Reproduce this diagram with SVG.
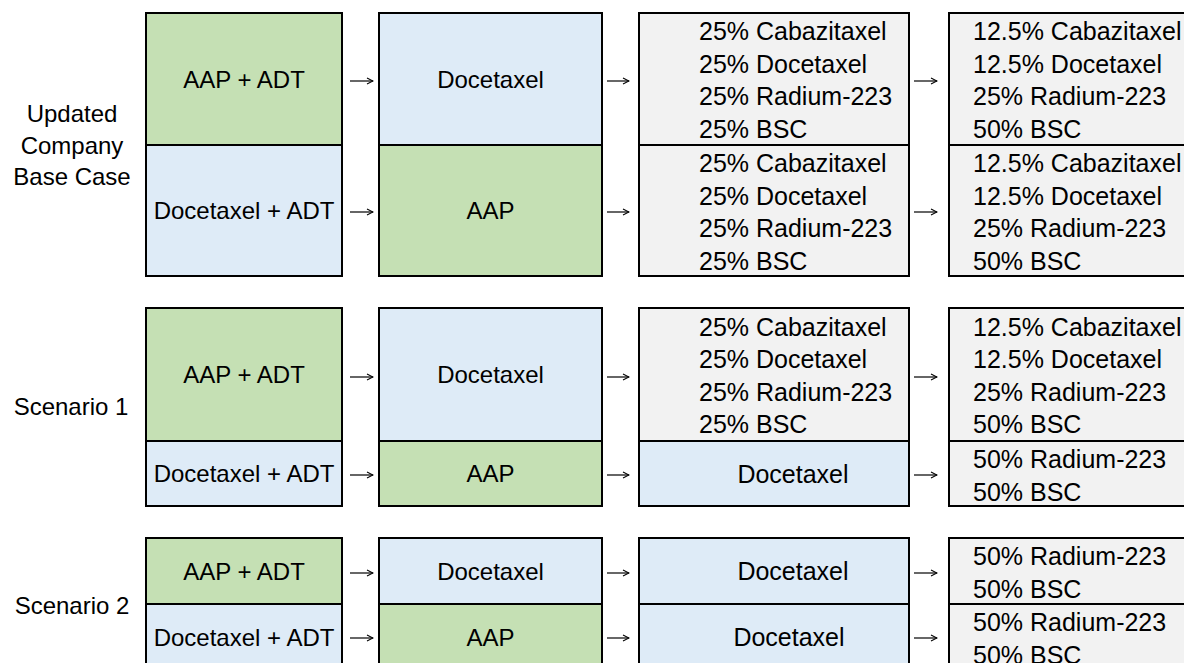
<svg xmlns="http://www.w3.org/2000/svg" width="1184" height="663" viewBox="0 0 1184 663">
<defs>
<style>
.g{fill:#C5E0B4;stroke:#000;stroke-width:2}
.b{fill:#DEEBF7;stroke:#000;stroke-width:2}
.s{fill:#F2F2F2;stroke:#000;stroke-width:2}
text{font-family:"Liberation Sans",Arial,sans-serif;fill:#000}
.c{font-size:24px;text-anchor:middle}
.l{font-size:25px}
.cl{font-size:25px;text-anchor:middle}
.lab{font-size:24px;text-anchor:middle}
.arr{stroke:#000;stroke-width:1.2;fill:none}
</style>
<marker id="ah" markerWidth="8" markerHeight="8" refX="7" refY="4" orient="auto" markerUnits="userSpaceOnUse">
<path d="M1,1 L7,4 L1,7" fill="none" stroke="#000" stroke-width="1.1"/>
</marker>
</defs>
<rect width="1184" height="663" fill="#fff"/>

<g id="labels">
<text class="lab" x="72" y="122">Updated</text>
<text class="lab" x="72" y="154">Company</text>
<text class="lab" x="72" y="185">Base Case</text>
<text class="lab" x="71" y="415">Scenario 1</text>
<text class="lab" x="72" y="614">Scenario 2</text>
</g>

<!-- Base case -->
<g id="bc-r1-c1"><rect class="g" x="146" y="13" width="196" height="132"/><text class="c" x="244" y="87.5">AAP + ADT</text></g>
<g id="bc-r1-c2"><rect class="b" x="379" y="13" width="223" height="132"/><text class="c" x="490.5" y="87.5">Docetaxel</text></g>
<g id="bc-r1-c3"><rect class="s" x="639" y="13" width="270" height="132"/>
<text class="l" x="699" y="40">25% Cabazitaxel</text><text class="l" x="699" y="72.5">25% Docetaxel</text><text class="l" x="699" y="105">25% Radium-223</text><text class="l" x="699" y="137.5">25% BSC</text></g>
<g id="bc-r1-c4"><rect class="s" x="949" y="13" width="245" height="132"/>
<text class="l" x="973" y="40">12.5% Cabazitaxel</text><text class="l" x="973" y="72.5">12.5% Docetaxel</text><text class="l" x="973" y="105">25% Radium-223</text><text class="l" x="973" y="137.5">50% BSC</text></g>

<g id="bc-r2-c1"><rect class="b" x="146" y="145" width="196" height="131"/><text class="c" x="244" y="219">Docetaxel + ADT</text></g>
<g id="bc-r2-c2"><rect class="g" x="379" y="145" width="223" height="131"/><text class="c" x="490.5" y="219">AAP</text></g>
<g id="bc-r2-c3"><rect class="s" x="639" y="145" width="270" height="131"/>
<text class="l" x="699" y="172">25% Cabazitaxel</text><text class="l" x="699" y="204.5">25% Docetaxel</text><text class="l" x="699" y="237">25% Radium-223</text><text class="l" x="699" y="269.5">25% BSC</text></g>
<g id="bc-r2-c4"><rect class="s" x="949" y="145" width="245" height="131"/>
<text class="l" x="973" y="172">12.5% Cabazitaxel</text><text class="l" x="973" y="204.5">12.5% Docetaxel</text><text class="l" x="973" y="237">25% Radium-223</text><text class="l" x="973" y="269.5">50% BSC</text></g>

<!-- Scenario 1 -->
<g id="s1-r1-c1"><rect class="g" x="146" y="308" width="196" height="133"/><text class="c" x="244" y="383">AAP + ADT</text></g>
<g id="s1-r1-c2"><rect class="b" x="379" y="308" width="223" height="133"/><text class="c" x="490.5" y="383">Docetaxel</text></g>
<g id="s1-r1-c3"><rect class="s" x="639" y="308" width="270" height="133"/>
<text class="l" x="699" y="335.5">25% Cabazitaxel</text><text class="l" x="699" y="368">25% Docetaxel</text><text class="l" x="699" y="400.5">25% Radium-223</text><text class="l" x="699" y="433">25% BSC</text></g>
<g id="s1-r1-c4"><rect class="s" x="949" y="308" width="245" height="133"/>
<text class="l" x="973" y="335.5">12.5% Cabazitaxel</text><text class="l" x="973" y="368">12.5% Docetaxel</text><text class="l" x="973" y="400.5">25% Radium-223</text><text class="l" x="973" y="433">50% BSC</text></g>

<g id="s1-r2-c1"><rect class="b" x="146" y="441" width="196" height="65"/><text class="c" x="244" y="482">Docetaxel + ADT</text></g>
<g id="s1-r2-c2"><rect class="g" x="379" y="441" width="223" height="65"/><text class="c" x="490.5" y="482">AAP</text></g>
<g id="s1-r2-c3"><rect class="b" x="639" y="441" width="270" height="65"/><text class="cl" x="793" y="482.5">Docetaxel</text></g>
<g id="s1-r2-c4"><rect class="s" x="949" y="441" width="245" height="65"/>
<text class="l" x="973" y="468">50% Radium-223</text><text class="l" x="973" y="500.5">50% BSC</text></g>

<!-- Scenario 2 -->
<g id="s2-r1-c1"><rect class="g" x="146" y="538" width="196" height="66"/><text class="c" x="244" y="579.5">AAP + ADT</text></g>
<g id="s2-r1-c2"><rect class="b" x="379" y="538" width="223" height="66"/><text class="c" x="490.5" y="579.5">Docetaxel</text></g>
<g id="s2-r1-c3"><rect class="b" x="639" y="538" width="270" height="66"/><text class="cl" x="793" y="580">Docetaxel</text></g>
<g id="s2-r1-c4"><rect class="s" x="949" y="538" width="245" height="66"/>
<text class="l" x="973" y="565">50% Radium-223</text><text class="l" x="973" y="597.5">50% BSC</text></g>

<g id="s2-r2-c1"><rect class="b" x="146" y="604" width="196" height="66"/><text class="c" x="244" y="645.5">Docetaxel + ADT</text></g>
<g id="s2-r2-c2"><rect class="g" x="379" y="604" width="223" height="66"/><text class="c" x="490.5" y="645.5">AAP</text></g>
<g id="s2-r2-c3"><rect class="b" x="639" y="604" width="270" height="66"/><text class="cl" x="789" y="646">Docetaxel</text></g>
<g id="s2-r2-c4"><rect class="s" x="949" y="604" width="245" height="66"/>
<text class="l" x="973" y="631">50% Radium-223</text><text class="l" x="973" y="663.5">50% BSC</text></g>

<g id="connectors">
<path class="arr" marker-end="url(#ah)" d="M350,81 H373"/>
<path class="arr" marker-end="url(#ah)" d="M607,81 H629"/>
<path class="arr" marker-end="url(#ah)" d="M914,81 H937"/>
<path class="arr" marker-end="url(#ah)" d="M350,212 H373"/>
<path class="arr" marker-end="url(#ah)" d="M607,212 H629"/>
<path class="arr" marker-end="url(#ah)" d="M914,212 H937"/>
<path class="arr" marker-end="url(#ah)" d="M350,377 H373"/>
<path class="arr" marker-end="url(#ah)" d="M607,377 H629"/>
<path class="arr" marker-end="url(#ah)" d="M914,377 H937"/>
<path class="arr" marker-end="url(#ah)" d="M350,475 H373"/>
<path class="arr" marker-end="url(#ah)" d="M607,475 H629"/>
<path class="arr" marker-end="url(#ah)" d="M914,475 H937"/>
<path class="arr" marker-end="url(#ah)" d="M350,573 H373"/>
<path class="arr" marker-end="url(#ah)" d="M607,573 H629"/>
<path class="arr" marker-end="url(#ah)" d="M914,573 H937"/>
<path class="arr" marker-end="url(#ah)" d="M350,638 H373"/>
<path class="arr" marker-end="url(#ah)" d="M607,638 H629"/>
<path class="arr" marker-end="url(#ah)" d="M914,638 H937"/>
</g>
</svg>
